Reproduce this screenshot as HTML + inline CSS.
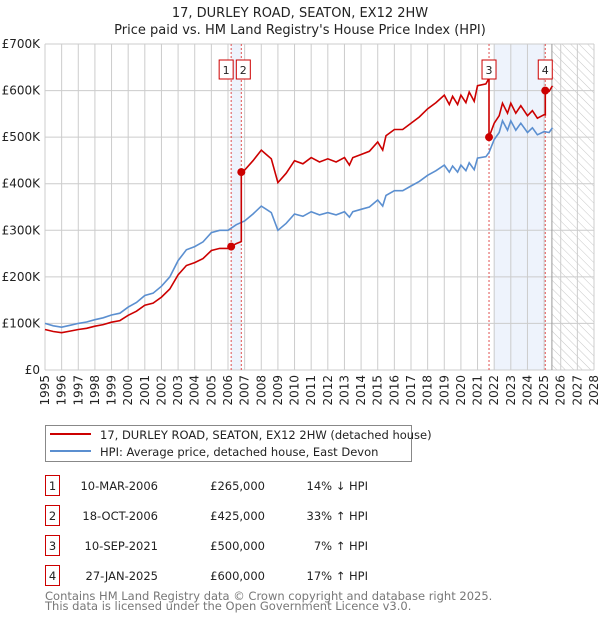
<!DOCTYPE html>
<html><head><meta charset="utf-8">
<style>
body{margin:0;background:#fff;font-family:"DejaVu Sans","Liberation Sans",sans-serif;}
#wrap{position:relative;width:600px;height:620px;overflow:hidden;}
svg text{font-family:"DejaVu Sans","Liberation Sans",sans-serif;}
</style></head>
<body>
<div id="wrap">
<svg id="svg" width="600" height="620" xmlns="http://www.w3.org/2000/svg">
<defs>
<pattern id="hatch" width="6" height="6" patternUnits="userSpaceOnUse" patternTransform="rotate(-45)">
<line x1="0" y1="0" x2="0" y2="6" stroke="#c8c8c8" stroke-width="1"/>
</pattern>
</defs>
<text x="300" y="17" text-anchor="middle" font-size="13" fill="#222">17, DURLEY ROAD, SEATON, EX12 2HW</text>
<text x="300" y="34" text-anchor="middle" font-size="13" fill="#222">Price paid vs. HM Land Registry's House Price Index (HPI)</text>
<g id="plot"></g>
<g>
<rect x="45.5" y="425.5" width="366" height="36" fill="#fff" stroke="#888"/>
<line x1="50" y1="434" x2="91" y2="434" stroke="#cc0000" stroke-width="2"/>
<text x="100" y="439" font-size="11.5" fill="#222">17, DURLEY ROAD, SEATON, EX12 2HW (detached house)</text>
<line x1="50" y1="451" x2="91" y2="451" stroke="#5b8fd0" stroke-width="2"/>
<text x="100" y="456" font-size="11.5" fill="#222">HPI: Average price, detached house, East Devon</text>
</g>
<g id="table"></g>
<text x="45" y="600" font-size="11.5" fill="#777">Contains HM Land Registry data © Crown copyright and database right 2025.</text>
<text x="45" y="610" font-size="11.5" fill="#777">This data is licensed under the Open Government Licence v3.0.</text>
</svg>
</div>
<script>
const hpiYears=[1995,1995.5,1996,1996.5,1997,1997.5,1998,1998.5,1999,1999.5,2000,2000.5,2001,2001.5,2002,2002.5,2003,2003.5,2004,2004.5,2005,2005.5,2006,2006.5,2007,2007.5,2008,2008.3,2008.6,2009,2009.5,2010,2010.5,2011,2011.5,2012,2012.5,2013,2013.3,2013.5,2014,2014.5,2015,2015.3,2015.5,2016,2016.5,2017,2017.5,2018,2018.5,2019,2019.3,2019.5,2019.8,2020,2020.3,2020.5,2020.8,2021,2021.5,2021.69,2022,2022.3,2022.5,2022.8,2023,2023.3,2023.6,2024,2024.3,2024.6,2025,2025.3,2025.5];
const hpiValues=[100,95,92,96,100,103,108,112,118,122,135,145,160,165,180,200,235,258,265,275,295,300,300,312,320,335,352,345,338,300,315,335,330,340,333,338,333,340,328,340,345,350,365,352,375,385,385,395,405,418,428,440,425,438,425,440,428,445,430,455,458,467,495,510,535,515,535,515,530,510,520,505,512,510,520];
const saleDates=[2006.19,2006.8,2021.69,2025.07];
const salePrices=[265,425,500,600];
const saleLabels=['1','2','3','4'];
const saleDateText=['10-MAR-2006','18-OCT-2006','10-SEP-2021','27-JAN-2025'];
const salePriceText=['£265,000','£425,000','£500,000','£600,000'];
const saleHpiText=['14% ↓ HPI','33% ↑ HPI','7% ↑ HPI','17% ↑ HPI'];
const yTicks=[0,100,200,300,400,500,600,700];
const yTickLabels=['£0','£100K','£200K','£300K','£400K','£500K','£600K','£700K'];
const xTicks=[1995,1996,1997,1998,1999,2000,2001,2002,2003,2004,2005,2006,2007,2008,2009,2010,2011,2012,2013,2014,2015,2016,2017,2018,2019,2020,2021,2022,2023,2024,2025,2026,2027,2028];

const X0=45,X1=594,Y0=370,Y1=44;
const xs=y=>X0+(y-1995)/(2028-1995)*(X1-X0);
const ys=v=>Y0-v/700*(Y0-Y1);
const NS='http://www.w3.org/2000/svg';
function mk(tag,attrs,parent,text){const e=document.createElementNS(NS,tag);for(const k in attrs)e.setAttribute(k,attrs[k]);if(text!==undefined)e.textContent=text;parent.appendChild(e);return e;}
const plot=document.getElementById('plot');
function hpiAt(t){for(let i=1;i<hpiYears.length;i++){if(t<=hpiYears[i]){const a=hpiYears[i-1],b=hpiYears[i];return hpiValues[i-1]+(hpiValues[i]-hpiValues[i-1])*(t-a)/(b-a);}}return hpiValues[hpiValues.length-1];}

// shaded regions
let r=mk('rect',{x:xs(saleDates[0]),y:Y1,width:xs(saleDates[1])-xs(saleDates[0]),height:Y0-Y1,fill:'#eef3fc'},plot);

r=mk('rect',{x:xs(2022),y:Y1,width:xs(saleDates[3])-xs(2022),height:Y0-Y1,fill:'#eef3fc'},plot);

const fut=2025.47;
r=mk('rect',{x:xs(fut),y:Y1,width:X1-xs(fut),height:Y0-Y1,fill:'url(#hatch)'},plot);


// grid
xTicks.forEach(t=>{const l=mk('line',{x1:xs(t),x2:xs(t),y1:Y1,y2:Y0,stroke:'#cccccc','stroke-width':1},plot);

const tx=mk('text',{x:0,y:0,'font-size':12,fill:'#222','text-anchor':'end',transform:`translate(${xs(t)+4},${Y0+5}) rotate(-90)`},plot,String(t));
});
yTicks.forEach((t,i)=>{const l=mk('line',{x1:X0,x2:X1,y1:ys(t),y2:ys(t),stroke:'#cccccc','stroke-width':1},plot);

const tx=mk('text',{x:40,y:ys(t)+4,'font-size':12,fill:'#222','text-anchor':'end'},plot,yTickLabels[i]);
});
r=mk('line',{x1:xs(fut),x2:xs(fut),y1:Y1,y2:Y0,stroke:'#999','stroke-width':1},plot);


// sale vlines
saleDates.forEach(d=>{const l=mk('line',{x1:xs(d),x2:xs(d),y1:Y1,y2:Y0,stroke:'#e05050','stroke-width':1,'stroke-dasharray':'2,2'},plot);
});

// HPI line
const hp=hpiYears.map((t,i)=>`${xs(t).toFixed(1)},${ys(hpiValues[i]).toFixed(1)}`).join(' ');
r=mk('polyline',{points:hp,fill:'none',stroke:'#5b8fd0','stroke-width':1.6},plot);


// property line: HPI indexed from each sale
const ratios=saleDates.map((d,i)=>salePrices[i]/hpiAt(d));
function ratioAt(t){let k=0;for(let i=0;i<saleDates.length;i++)if(t>=saleDates[i])k=i;return ratios[k];}
let pts=[];
hpiYears.forEach((t,i)=>{
  saleDates.forEach((d,j)=>{if(i>0&&hpiYears[i-1]<d&&t>=d){const prevR=j>0?ratios[j-1]:ratios[0];pts.push([d,hpiAt(d)*prevR]);pts.push([d,salePrices[j]]);}});
  pts.push([t,hpiValues[i]*ratioAt(t)]);
});
r=mk('polyline',{points:pts.map(p=>`${xs(p[0]).toFixed(1)},${ys(p[1]).toFixed(1)}`).join(' '),fill:'none',stroke:'#cc0000','stroke-width':1.6},plot);


saleDates.forEach((d,i)=>{const c=mk('circle',{cx:xs(d),cy:ys(salePrices[i]),r:4,fill:'#cc0000'},plot);

const bx=saleLabels[i]==='1'?xs(d)-12:(saleLabels[i]==='2'?xs(d)-5:xs(d)-7);
const b=mk('rect',{x:bx,y:60,width:14,height:19,fill:'#fff',stroke:'#cc0000','stroke-width':1},plot);

const t=mk('text',{x:bx+7,y:74,'font-size':11,fill:'#222','text-anchor':'middle'},plot,saleLabels[i]);
});

// table
const tb=document.getElementById('table');
saleLabels.forEach((lab,i)=>{const y=476+i*30;
const b=mk('rect',{x:45.5,y:y-0.5,width:14,height:20,fill:'#fff',stroke:'#cc0000','stroke-width':1},tb);

let t=mk('text',{x:52.5,y:y+14,'font-size':11.5,fill:'#222','text-anchor':'middle'},tb,lab);

t=mk('text',{x:158,y:y+14,'font-size':11.5,fill:'#222','text-anchor':'end'},tb,saleDateText[i]);

t=mk('text',{x:265,y:y+14,'font-size':11.5,fill:'#222','text-anchor':'end'},tb,salePriceText[i]);

t=mk('text',{x:368,y:y+14,'font-size':11.5,fill:'#222','text-anchor':'end'},tb,saleHpiText[i]);
});
</script>
</body></html>
